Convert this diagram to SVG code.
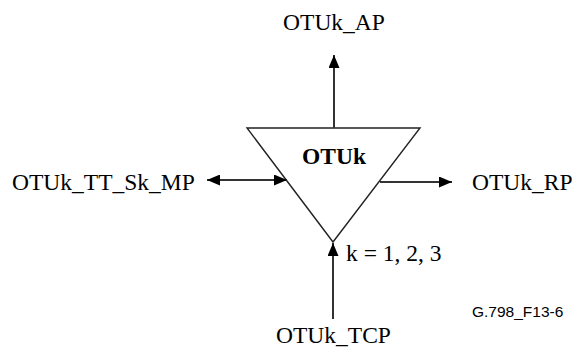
<svg xmlns="http://www.w3.org/2000/svg" width="572" height="349" viewBox="0 0 572 349">
<defs>
<marker id="ah" viewBox="0 0 13 11" refX="13" refY="5.5" markerWidth="13" markerHeight="11" markerUnits="userSpaceOnUse" orient="auto-start-reverse">
<path d="M0,0 L13,5.5 L0,11 Z" fill="#000"/>
</marker>
</defs>
<style>
.t{font-family:"Liberation Serif","Times New Roman",serif;font-size:23.5px;fill:#000}
.c{stroke:#333;stroke-width:2;fill:none}
</style>
<rect width="572" height="349" fill="#fff"/>
<g id="otuk">
<polygon points="247,128 420,128 333,242" fill="none" stroke="#222" stroke-width="1.4"/>
<text class="t" x="302" y="164" font-weight="bold">OTUk</text>
<text class="t" x="346" y="261">k = 1, 2, 3</text>
</g>
<g id="connectors">
<line class="c" x1="334" y1="128" x2="334" y2="55" marker-end="url(#ah)"/>
<line class="c" x1="207" y1="180" x2="287" y2="180" marker-start="url(#ah)" marker-end="url(#ah)"/>
<line class="c" x1="380" y1="182" x2="452" y2="182" marker-end="url(#ah)"/>
<line class="c" x1="333" y1="319" x2="333" y2="243" marker-end="url(#ah)"/>
</g>
<g id="ap"><text class="t" x="334" y="30" text-anchor="middle">OTUk_AP</text></g>
<g id="mp"><text class="t" x="12" y="190">OTUk_TT_Sk_MP</text></g>
<g id="rp"><text class="t" x="472" y="190">OTUk_RP</text></g>
<g id="tcp"><text class="t" x="276" y="343">OTUk_TCP</text></g>
<text x="472" y="317" font-family="'Liberation Sans',Arial,sans-serif" font-size="15.5" fill="#000">G.798_F13-6</text>
</svg>
